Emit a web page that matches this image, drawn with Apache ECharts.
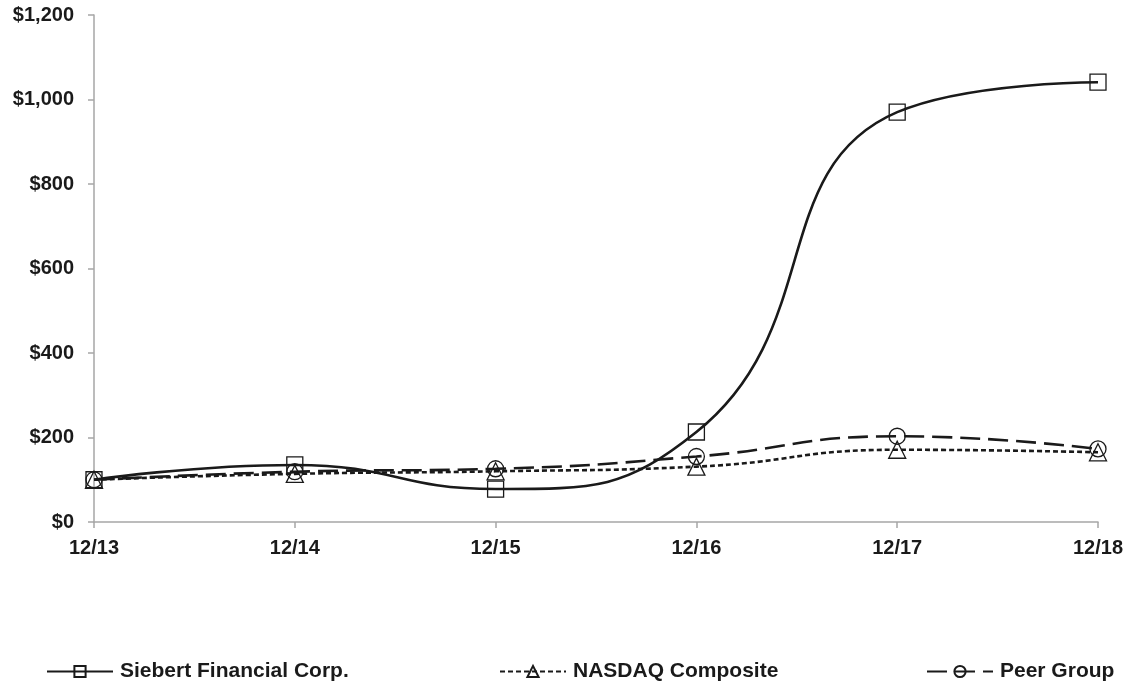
<!DOCTYPE html>
<html><head><meta charset="utf-8">
<script src="https://cdn.jsdelivr.net/npm/echarts@6/dist/echarts.min.js"></script>
<style>html,body{margin:0;padding:0;background:#fff}#c{width:1132px;height:683px}</style>
</head><body><div id="c"></div>
<script>
var categories = ['12/13','12/14','12/15','12/16','12/17','12/18'];
var siebert = [100, 135, 78, 213, 970, 1041];
var nasdaq = [100, 114, 120, 131, 171, 165];
var peer = [100, 119, 126, 155, 203, 173];
var yTicks = [0, 200, 400, 600, 800, 1000, 1200];

var chart = echarts.init(document.getElementById('c'));
var font = 'Liberation Sans, Arial, sans-serif';
function mk(name, data, symbol, dash) {
  return {
    name: name, type: 'line', data: data, smooth: 0.5,
    symbol: symbol, symbolSize: symbol === 'triangle' ? 17 : 16,
    lineStyle: { color: '#1a1a1a', width: 2.6, type: dash },
    itemStyle: { color: 'rgba(0,0,0,0)', borderColor: '#1a1a1a', borderWidth: 1.3 },
    emphasis: { disabled: true }, z: 2
  };
}
function lg(name, left) {
  return {
    data: [name], left: left, top: 656, itemWidth: 66, itemHeight: 14, itemGap: 0,
    textStyle: { fontFamily: font, fontWeight: 'bold', fontSize: 21, color: '#1a1a1a', padding: [0,0,0,2] },
    selectedMode: false
  };
}
chart.setOption({
  animation: false,
  grid: { left: 94, right: 34, top: 15, bottom: 161 },
  legend: [lg('Siebert Financial Corp.', 41), lg('NASDAQ Composite', 494), lg('Peer Group', 921)],
  xAxis: {
    type: 'category', data: categories, boundaryGap: false,
    axisLine: { lineStyle: { color: '#a6a6a6', width: 1.5 } },
    axisTick: { alignWithLabel: true, length: 6, lineStyle: { color: '#a6a6a6', width: 1.5 } },
    axisLabel: { fontFamily: font, fontWeight: 'bold', fontSize: 20, color: '#1a1a1a', margin: 16 }
  },
  yAxis: {
    type: 'value', min: 0, max: 1200, interval: 200,
    axisLine: { show: true, lineStyle: { color: '#a6a6a6', width: 1.5 } },
    axisTick: { show: true, length: 6, lineStyle: { color: '#a6a6a6', width: 1.5 } },
    splitLine: { show: false },
    axisLabel: { fontFamily: font, fontWeight: 'bold', fontSize: 20, color: '#1a1a1a', margin: 20,
      formatter: function (v) { return yTicks.indexOf(v) >= 0 ? '$' + v.toLocaleString('en-US') : ''; } }
  },
  series: [
    mk('Siebert Financial Corp.', siebert, 'rect', 'solid'),
    mk('NASDAQ Composite', nasdaq, 'triangle', [5, 3]),
    mk('Peer Group', peer, 'circle', [20, 8])
  ]
});
</script></body></html>
